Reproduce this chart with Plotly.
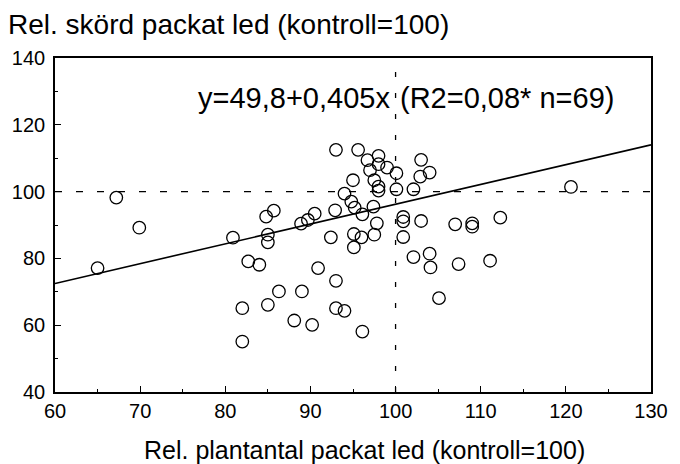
import plotly.graph_objects as go

# Data
plant_x = [65.0, 67.2, 69.9, 80.9, 82.0, 82.0, 82.7, 84.0, 85.0, 85.0,
           84.8, 85.7, 85.0, 86.3, 88.1, 88.9, 89.0, 89.7, 90.2, 90.5,
           90.9, 92.4, 93.0, 92.9, 93.0, 93.0, 94.0, 94.0, 94.8, 95.2,
           95.0, 95.1, 95.1, 95.6, 96.1, 96.0, 96.1, 96.7, 97.0, 97.4,
           97.5, 97.5, 97.8, 98.0, 98.0, 98.0, 98.0, 99.0, 100.1, 100.1,
           100.9, 100.9, 100.9, 102.1, 102.1, 103.0, 102.9, 103.0, 104.0, 104.0,
           104.1, 105.1, 107.0, 107.4, 109.0, 109.0, 111.1, 112.3, 120.6]
yield_y = [77.1, 98.2, 89.2, 86.2, 65.1, 55.1, 79.1, 78.1, 87.1, 84.8,
           92.5, 94.3, 66.1, 70.1, 61.4, 90.4, 70.1, 91.5, 60.1, 93.4,
           77.1, 86.3, 112.5, 94.4, 73.3, 65.1, 99.4, 64.3, 97.0, 95.2,
           103.4, 87.3, 83.3, 112.5, 93.2, 86.3, 58.1, 109.4, 106.4, 95.5,
           103.4, 87.1, 90.5, 110.7, 108.2, 101.5, 100.3, 107.2, 105.5, 100.7,
           92.4, 91.1, 86.4, 100.7, 80.4, 109.5, 104.5, 91.2, 105.7, 81.4,
           77.3, 68.1, 90.2, 78.3, 90.5, 89.5, 79.3, 92.2, 101.4]

fit_x = [60, 130]
fit_y = [72.5, 114.0]

ref_value = 100
x_range = [60, 130]
y_range = [40, 140]
x_ticks = [60, 70, 80, 90, 100, 110, 120, 130]
y_ticks = [40, 60, 80, 100, 120, 140]

y_title = "Rel. skörd packat led (kontroll=100)"
x_title = "Rel. plantantal packat led (kontroll=100)"
eq_left = "y=49,8+0,405x"
eq_right = "(R2=0,08* n=69)"

FONT = "Liberation Sans, Arial, Helvetica, sans-serif"

fig = go.Figure()

# dashed reference lines
fig.add_trace(go.Scatter(x=[ref_value, ref_value], y=y_range, mode="lines",
                         line=dict(color="black", width=1.3, dash="5px,16px"),
                         hoverinfo="skip", showlegend=False))
fig.add_trace(go.Scatter(x=x_range, y=[ref_value, ref_value], mode="lines",
                         line=dict(color="black", width=1.3, dash="7px,14px"),
                         hoverinfo="skip", showlegend=False))
# regression line
fig.add_trace(go.Scatter(x=fit_x, y=fit_y, mode="lines",
                         line=dict(color="black", width=1.6),
                         showlegend=False))
# points
fig.add_trace(go.Scatter(x=plant_x, y=yield_y, mode="markers",
                         marker=dict(symbol="circle-open", size=12.5,
                                     color="black", line=dict(width=1.3)),
                         showlegend=False))

axis_common = dict(showline=True, linecolor="black", linewidth=1.6, mirror=True,
                   ticks="inside", ticklen=6, tickwidth=1.2, tickcolor="black",
                   showgrid=False, zeroline=False,
                   tickfont=dict(family=FONT, size=20, color="black"))

fig.update_xaxes(range=x_range, tickvals=x_ticks, **axis_common,
                 minor=dict(ticks="inside", ticklen=3, tickwidth=1, tickcolor="black",
                            dtick=5, showgrid=False))
fig.update_yaxes(range=y_range, tickvals=y_ticks, ticklabelstandoff=4, **axis_common,
                 minor=dict(ticks="inside", ticklen=3, tickwidth=1, tickcolor="black",
                            dtick=10, showgrid=False))

fig.add_annotation(text=y_title, xref="paper", yref="paper", x=-0.083, y=1.0,
                   yshift=34, xanchor="left", yanchor="middle", showarrow=False,
                   font=dict(family=FONT, size=28, color="black"))
fig.add_annotation(text=x_title, xref="paper", yref="paper", x=0.52, y=0,
                   yshift=-58, xanchor="center", yanchor="middle", showarrow=False,
                   font=dict(family=FONT, size=25, color="black"))
fig.add_annotation(text=eq_left, x=99.6, y=128, xanchor="right", yanchor="middle",
                   showarrow=False, font=dict(family=FONT, size=29, color="black"))
fig.add_annotation(text=eq_right, x=100.3, y=128, xanchor="left", yanchor="middle",
                   showarrow=False, font=dict(family=FONT, size=29, color="black"))

fig.update_layout(width=680, height=464, autosize=False,
                  margin=dict(l=53, r=22, t=58, b=72),
                  paper_bgcolor="white", plot_bgcolor="white",
                  font=dict(family=FONT, color="black"))

fig.write_html("out.html")
